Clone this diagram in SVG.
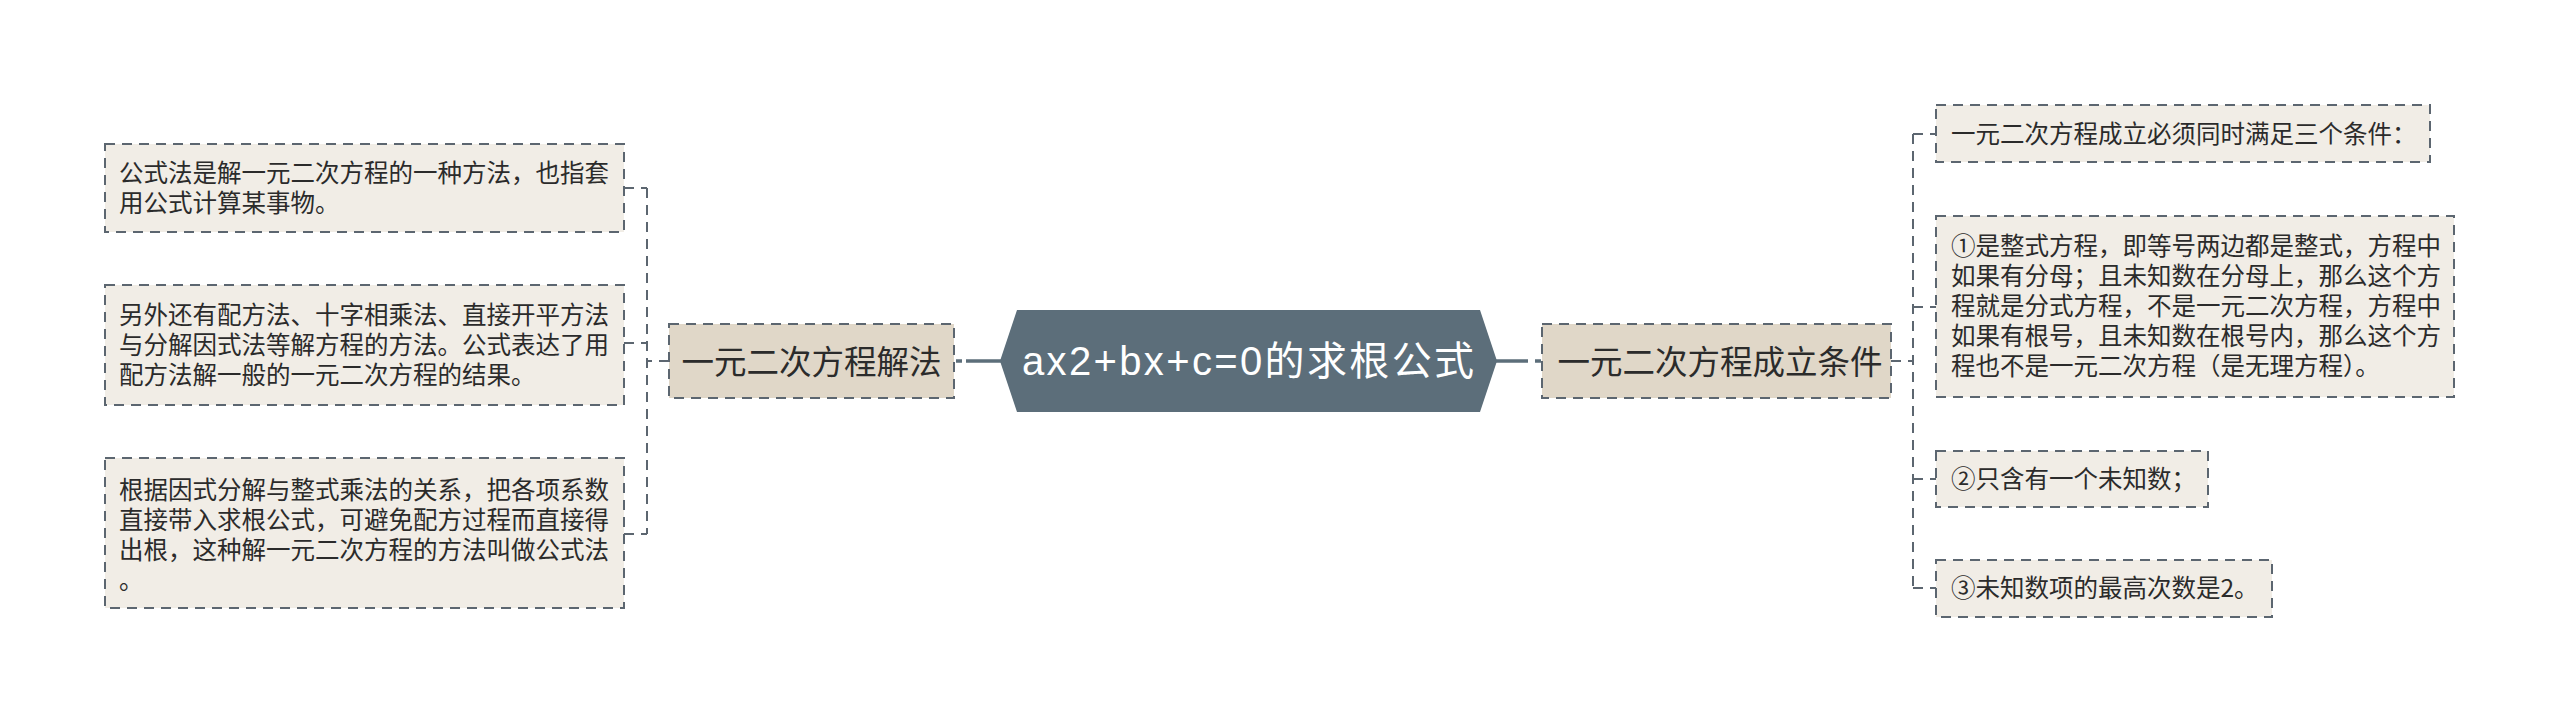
<svg xmlns="http://www.w3.org/2000/svg" width="2560" height="722" viewBox="0 0 2560 722">
<style>
.bg{fill:#ffffff}
.main{fill:#5c6e7a}
.mainText{fill:#ffffff;font-family:"Liberation Sans","Noto Sans CJK SC",sans-serif;font-size:40px}
.branch{fill:#e0d7c8;stroke:#5c6670;stroke-width:2;stroke-dasharray:10 7}
.branchText{fill:#2b2b2b;font-family:"Noto Sans CJK SC",sans-serif;font-size:32.5px}
.leaf{fill:#f1ede6;stroke:#5c6670;stroke-width:2;stroke-dasharray:10 7}
.leafText{fill:#2b2b2b;font-family:"Noto Sans CJK SC",sans-serif;font-size:24.5px}
.solid{stroke:#5c6e7a;stroke-width:3.5;fill:none}
.dash{stroke:#5c6670;stroke-width:2;fill:none;stroke-dasharray:10 7}
</style>
<rect class="bg" x="0" y="0" width="2560" height="722"/>
<g id="connectors">
<line class="solid" x1="966" y1="361" x2="1001" y2="361"/>
<line class="solid" x1="956" y1="361" x2="962" y2="361"/>
<line class="solid" x1="1496" y1="361" x2="1528" y2="361"/>
<line class="solid" x1="1535" y1="361" x2="1541" y2="361"/>
<path class="dash" d="M669,361 H647 M647,188 V534 M624,188 H647 M624,343 H647 M624,534 H647"/>
<path class="dash" d="M1891,361 H1913 M1913,134 V588 M1913,134 H1936 M1913,307 H1936 M1913,479 H1936 M1913,588 H1936"/>
</g>
<g id="root">
<polygon class="main" points="1000,361 1017,310 1480,310 1497,361 1480,412 1017,412"/>
<text class="mainText" x="1248" y="375" text-anchor="middle" textLength="452" lengthAdjust="spacing">ax2+bx+c=0的求根公式</text>
</g>
<g id="branch-left">
<rect class="branch" x="669" y="324" width="285" height="74"/>
<text class="branchText" x="811.5" y="374" text-anchor="middle">一元二次方程解法</text>
</g>
<g id="branch-right">
<rect class="branch" x="1542" y="324" width="349" height="74"/>
<text class="branchText" x="1720" y="374" text-anchor="middle">一元二次方程成立条件</text>
</g>
<g id="leaf-left-1">
<rect class="leaf" x="105" y="144" width="519" height="88"/>
<text class="leafText" x="119" y="182">公式法是解一元二次方程的一种方法，也指套<tspan x="119" dy="30">用公式计算某事物。</tspan></text>
</g>
<g id="leaf-left-2">
<rect class="leaf" x="105" y="285" width="519" height="120"/>
<text class="leafText" x="119" y="324">另外还有配方法、十字相乘法、直接开平方法<tspan x="119" dy="30">与分解因式法等解方程的方法。公式表达了用</tspan><tspan x="119" dy="30">配方法解一般的一元二次方程的结果。</tspan></text>
</g>
<g id="leaf-left-3">
<rect class="leaf" x="105" y="458" width="519" height="150"/>
<text class="leafText" x="119" y="499">根据因式分解与整式乘法的关系，把各项系数<tspan x="119" dy="30">直接带入求根公式，可避免配方过程而直接得</tspan><tspan x="119" dy="30">出根，这种解一元二次方程的方法叫做公式法</tspan><tspan x="119" dy="30">。</tspan></text>
</g>
<g id="leaf-right-1">
<rect class="leaf" x="1936" y="105" width="494" height="57"/>
<text class="leafText" x="1951" y="143">一元二次方程成立必须同时满足三个条件：</text>
</g>
<g id="leaf-right-2">
<rect class="leaf" x="1936" y="216" width="518" height="181"/>
<text class="leafText" x="1951" y="255">①是整式方程，即等号两边都是整式，方程中<tspan x="1951" dy="30">如果有分母；且未知数在分母上，那么这个方</tspan><tspan x="1951" dy="30">程就是分式方程，不是一元二次方程，方程中</tspan><tspan x="1951" dy="30">如果有根号，且未知数在根号内，那么这个方</tspan><tspan x="1951" dy="30">程也不是一元二次方程（是无理方程）。</tspan></text>
</g>
<g id="leaf-right-3">
<rect class="leaf" x="1936" y="451" width="272" height="56"/>
<text class="leafText" x="1951" y="488">②只含有一个未知数；</text>
</g>
<g id="leaf-right-4">
<rect class="leaf" x="1936" y="560" width="336" height="57"/>
<text class="leafText" x="1951" y="597">③未知数项的最高次数是2。</text>
</g>
</svg>
